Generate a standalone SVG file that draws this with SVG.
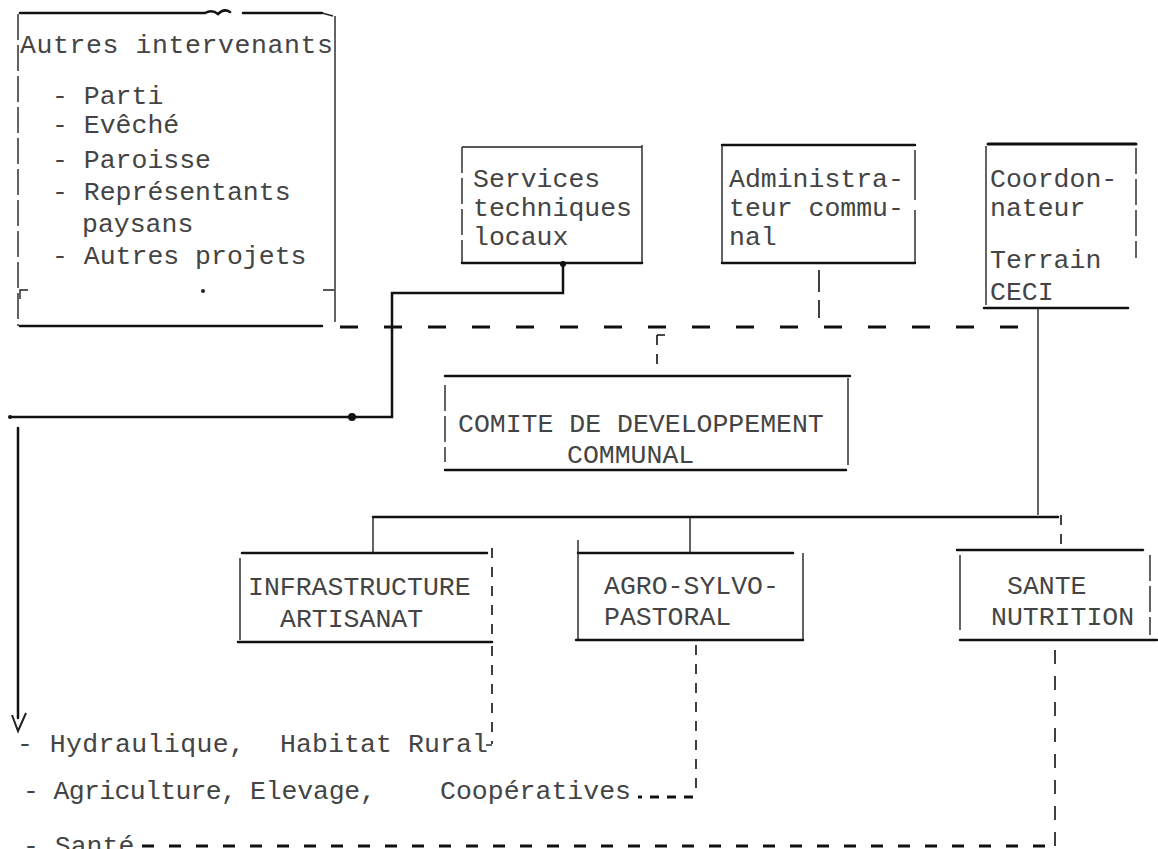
<svg xmlns="http://www.w3.org/2000/svg" width="1158" height="849" viewBox="0 0 1158 849">
<style>
.t{font-family:"Liberation Mono","DejaVu Sans Mono",monospace;font-size:26.5px;fill:#444}
.k{stroke:#111;stroke-width:2.5;fill:none;stroke-linecap:round}
.n{stroke:#222;stroke-width:1.4;fill:none}
.dn{stroke:#222;stroke-width:1.4;fill:none;stroke-dasharray:26 5}
.dd{stroke:#111;stroke-width:1.6;fill:none;stroke-dasharray:10 9}
.dk{stroke:#111;stroke-width:3;fill:none;stroke-dasharray:18 26}
</style>
<rect width="1158" height="849" fill="#fff"/>

<g id="autres">
<path class="k" d="M20 13 H205 Q212 9 218 14 Q224 8 230 12 M243 13 H322"/>
<path class="n" d="M322 13 L333 16 M335 16 V322"/>
<path class="dn" d="M18 14 V326"/>
<path class="k" d="M20 326 H322"/>
<path class="n" d="M20 299 V290 H28 M323 290 H334"/>
<circle cx="203" cy="291" r="2" fill="#222"/>
<text class="t" x="20" y="53" textLength="313" lengthAdjust="spacing">Autres intervenants</text>
<text class="t" x="52" y="104">- Parti</text>
<text class="t" x="52" y="133">- Evêché</text>
<text class="t" x="52" y="168">- Paroisse</text>
<text class="t" x="52" y="200">- Représentants</text>
<text class="t" x="82" y="232">paysans</text>
<text class="t" x="52" y="264">- Autres projets</text>
</g>

<g id="services">
<path class="n" d="M462 147 H642 M642 145 V263"/>
<path class="dn" d="M462 147 V263"/>
<path class="k" d="M462 263 H642"/>
<text class="t" x="473" y="187">Services</text>
<text class="t" x="473" y="216">techniques</text>
<text class="t" x="473" y="245">locaux</text>
</g>

<g id="admin">
<path class="k" d="M722 145 H915"/>
<path class="n" d="M722 145 V263 M915 150 V200 M915 210 V263"/>
<path class="k" d="M722 263 H915"/>
<text class="t" x="729" y="187">Administra-</text>
<text class="t" x="729" y="216">teur commu-</text>
<text class="t" x="729" y="245">nal</text>
</g>

<g id="coord">
<path class="k" d="M988 144 H1136" style="stroke-width:3"/>
<path class="n" d="M986 146 V305"/>
<path class="dn" d="M1136 148 V258"/>
<path class="k" d="M984 308 H1128"/>
<text class="t" x="990" y="187">Coordon-</text>
<text class="t" x="990" y="216">nateur</text>
<text class="t" x="990" y="268">Terrain</text>
<text class="t" x="990" y="300">CECI</text>
</g>

<g id="cdc">
<path class="k" d="M445 376 H850"/>
<path class="dn" d="M445 385 V462"/>
<path class="n" d="M848 378 V465"/>
<path class="k" d="M445 470 H846"/>
<text class="t" x="458" y="432">COMITE DE DEVELOPPEMENT</text>
<text class="t" x="567" y="463">COMMUNAL</text>
</g>

<g id="infra">
<path class="k" d="M242 553 H487"/>
<path class="n" d="M240 558 V640"/>
<path class="dd" d="M492 548 V640"/>
<path class="k" d="M238 642 H492"/>
<text class="t" x="248" y="595">INFRASTRUCTURE</text>
<text class="t" x="280" y="627">ARTISANAT</text>
</g>

<g id="agro">
<path class="k" d="M578 553 H793"/>
<path class="n" d="M578 540 V640 M803 553 V640"/>
<path class="k" d="M576 640 H803"/>
<text class="t" x="604" y="594">AGRO-SYLVO-</text>
<text class="t" x="604" y="625">PASTORAL</text>
</g>

<g id="sante">
<path class="k" d="M957 550 H1143"/>
<path class="n" d="M960 555 V630"/>
<path class="dn" d="M1150 555 V635"/>
<path class="k" d="M960 640 H1157"/>
<text class="t" x="1007" y="594">SANTE</text>
<text class="t" x="991" y="625">NUTRITION</text>
</g>

<g id="list">
<text class="t" x="17" y="752" textLength="228" lengthAdjust="spacing">- Hydraulique,</text>
<text class="t" x="280" y="752" textLength="208" lengthAdjust="spacing">Habitat Rural</text>
<text class="t" x="23" y="799" textLength="214" lengthAdjust="spacing">- Agriculture,</text>
<text class="t" x="250" y="799" textLength="126" lengthAdjust="spacing">Elevage,</text>
<text class="t" x="440" y="799" textLength="191" lengthAdjust="spacing">Coopératives</text>
<text class="t" x="23" y="854">- Santé</text>
</g>

<g id="connectors">
<path class="k" d="M563 263 V293 H392 V417 H10"/>
<circle cx="563" cy="264" r="3" fill="#111"/>
<circle cx="352" cy="417" r="4" fill="#111"/>
<circle cx="10" cy="417" r="2" fill="#111"/>
<path class="k" d="M18 428 V718"/>
<path class="n" d="M12 715 L18 731 L26 713" style="stroke-width:2"/>
<path class="dk" d="M340 327 H1030"/>
<path class="dd" d="M819 270 V318" style="stroke-dasharray:22 8"/>
<path class="dd" d="M657 335 V365 M657 335 H665"/>
<path class="n" d="M1038 308 V515"/>
<path class="k" d="M373 517 H1058"/>
<path class="n" d="M373 517 V553 M690 517 V553"/>
<path class="dd" d="M1061 515 V550"/>
<path class="dd" d="M492 646 V744"/>
<path class="n" d="M492 745 H486"/>
<path class="dd" d="M696 645 V795"/>
<path class="dk" d="M693 797 H638" style="stroke-dasharray:9 8"/>
<path class="dd" d="M1055 650 V849" style="stroke-dasharray:14 12"/>
<path class="dk" d="M142 846 H1050" style="stroke-dasharray:12 15"/>
</g>
</svg>
